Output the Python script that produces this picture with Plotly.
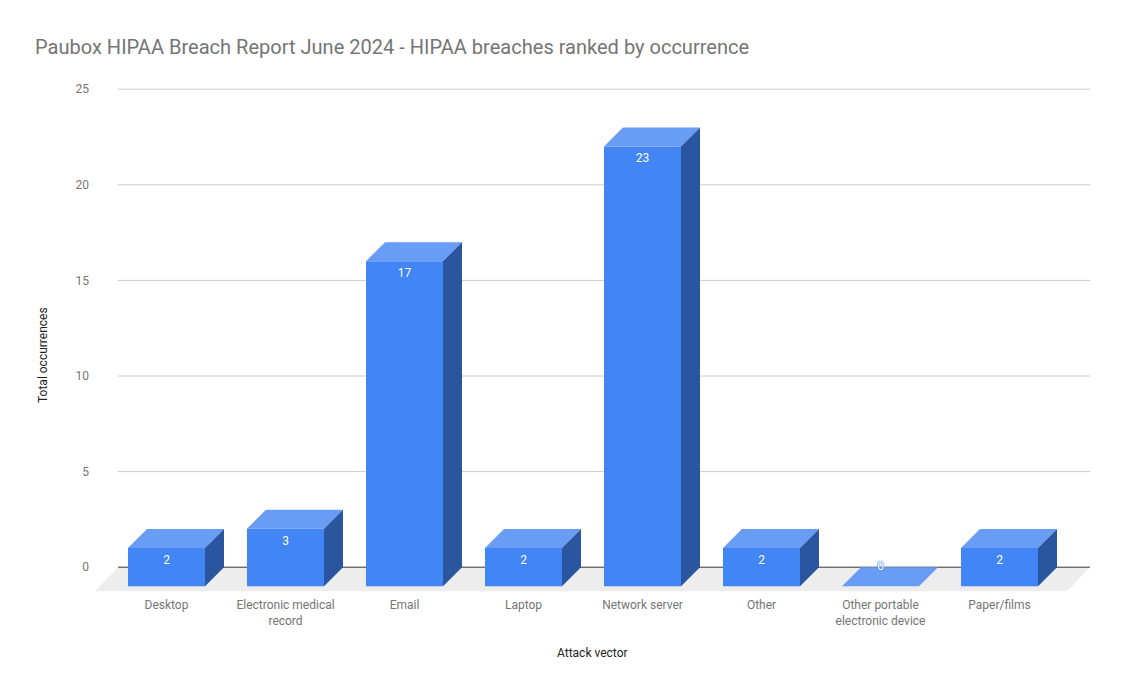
import plotly.graph_objects as go

categories = ["Desktop", "Electronic medical<br>record", "Email", "Laptop", "Network server",
              "Other", "Other portable<br>electronic device", "Paper/films"]
occurrences = [2, 3, 17, 2, 23, 2, 0, 2]
y_ticks = [0, 5, 10, 15, 20, 25]

TITLE = "Paubox HIPAA Breach Report June 2024 - HIPAA breaches ranked by occurrence"
FONT = "Roboto, Arial, sans-serif"
FRONT, TOP, SIDE, FLOOR = "#4285f4", "#689cf5", "#2a56a0", "#ededed"

W, H = 1124, 695
PL, PR, PT, PB = 95, 1092, 80, 595     # plot area in pixels
X0, XSTEP = 166.5, 119                  # pixel centre of first slot, slot spacing
Y0, YSTEP = 567.2, 478 / 25             # pixel of value 0, pixels per unit

x_range = [(PL - X0) / XSTEP, (PR - X0) / XSTEP]
y_range = [(Y0 - PB) / YSTEP, (Y0 - PT) / YSTEP]
xs = list(range(len(categories)))
bw = 77 / XSTEP          # front-face width
dx = 19 / XSTEP          # depth offset in x units
dy = 19 / YSTEP          # depth offset in y units
grid_left = (118 - X0) / XSTEP
grid_right = (1090 - X0) / XSTEP

fig = go.Figure()

# front faces
fig.add_trace(go.Bar(x=xs, y=occurrences, base=-dy, width=bw, marker=dict(color=FRONT, line_width=0),
                     hoverinfo="skip", showlegend=False))

# top and side faces
for x, v in zip(xs, occurrences):
    l, r = x - bw / 2, x + bw / 2
    front_top = v - dy
    fig.add_trace(go.Scatter(x=[l, r, r + dx, l + dx, l], y=[front_top, front_top, v, v, front_top],
                             mode="lines", fill="toself", fillcolor=TOP, line=dict(width=0),
                             hoverinfo="skip", showlegend=False))
    if v > 0:
        fig.add_trace(go.Scatter(x=[r, r + dx, r + dx, r, r], y=[-dy, 0, v, front_top, -dy],
                                 mode="lines", fill="toself", fillcolor=SIDE, line=dict(width=0),
                                 hoverinfo="skip", showlegend=False))

# value labels
fig.add_trace(go.Scatter(x=xs, y=[max(v - dy - 0.67, 0) for v in occurrences], mode="text",
                         text=[str(v) for v in occurrences], textposition="middle center",
                         textfont=dict(family=FONT, size=12, color="#ffffff",
                                       shadow="0 0 1px #4285f4, 0 0 1px #4285f4, 0 0 1px #4285f4"),
                         hoverinfo="skip", showlegend=False, cliponaxis=False))

# floor, gridlines and baseline sit beneath the bars
floor_dx = 23 / XSTEP
floor_dy = 24 / YSTEP
shapes = [dict(type="path", layer="below", xref="x", yref="y", line_width=0, fillcolor=FLOOR,
               path=f"M {grid_left} 0 L {grid_right} 0 L {grid_right - floor_dx} {-floor_dy} "
                    f"L {grid_left - floor_dx} {-floor_dy} Z")]
for t in y_ticks:
    shapes.append(dict(type="line", layer="below", xref="x", yref="y",
                       x0=grid_left, x1=grid_right, y0=t, y1=t,
                       line=dict(color="#333333" if t == 0 else "#cccccc", width=1)))

fig.update_layout(
    width=W, height=H, plot_bgcolor="#ffffff", paper_bgcolor="#ffffff",
    margin=dict(l=PL, r=W - PR, t=PT, b=H - PB, pad=0),
    barmode="overlay", showlegend=False, shapes=shapes,
    font=dict(family=FONT, color="#757575", size=12),
    title=dict(text=TITLE, x=35 / W, xanchor="left", y=1 - 47 / H, yanchor="middle",
               font=dict(family=FONT, size=20.05, color="#757575")),
    xaxis=dict(range=x_range, tickmode="array", tickvals=xs, ticktext=categories, showgrid=False,
               zeroline=False, showline=False, ticks="", tickangle=0, ticklabelstandoff=1,
               tickfont=dict(family=FONT, size=12, color="#757575")),
    yaxis=dict(range=y_range, tickmode="array", tickvals=y_ticks, showgrid=False, zeroline=False,
               showline=False, ticks="", ticklabelstandoff=5,
               tickfont=dict(family=FONT, size=12, color="#757575")),
    annotations=[
        dict(text="Attack vector", xref="paper", yref="paper", x=(592.5 - PL) / (PR - PL),
             y=(PB - 653) / (PB - PT), xanchor="center", yanchor="middle", showarrow=False,
             font=dict(family=FONT, size=12, color="#222222")),
        dict(text="Total occurrences", xref="paper", yref="paper", x=(43 - PL) / (PR - PL),
             y=(PB - 355) / (PB - PT), xanchor="center", yanchor="middle", showarrow=False,
             textangle=-90, font=dict(family=FONT, size=12, color="#222222")),
    ],
)

fig.write_html("out.html", config={"displayModeBar": False},
               post_script="document.body.style.margin='0';")
